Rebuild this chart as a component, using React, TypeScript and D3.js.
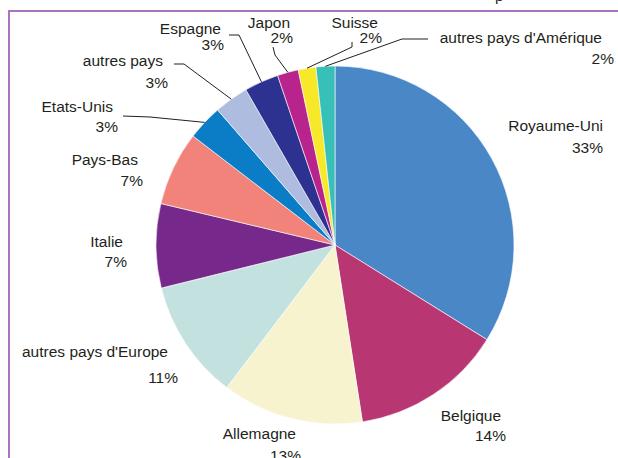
import React, { useEffect, useRef } from "react";
import * as d3 from "d3";

// Chart data (share of total, read clockwise from 12 o'clock)
const countries = [
  "Royaume-Uni",
  "Belgique",
  "Allemagne",
  "autres pays d'Europe",
  "Italie",
  "Pays-Bas",
  "Etats-Unis",
  "autres pays",
  "Espagne",
  "Japon",
  "Suisse",
  "autres pays d'Amérique",
];
const shares = [33.9, 13.7, 12.8, 10.8, 7.6, 6.7, 3.2, 3.1, 3.1, 1.9, 1.6, 1.7];
const percentLabels = ["33%", "14%", "13%", "11%", "7%", "7%", "3%", "3%", "3%", "2%", "2%", "2%"];
const colors = [
  "#4a87c7",
  "#b83772",
  "#f8f3cf",
  "#c3e2df",
  "#76298a",
  "#f2837a",
  "#0a7dc6",
  "#aebcdf",
  "#2d3190",
  "#b8248c",
  "#f8e82a",
  "#36c0b7",
];

// Label layout: right edge + baseline of each of the two lines
const labelLayout: { l1: [number, number]; l2: [number, number]; leader?: [number, number][] }[] = [
  { l1: [603, 131], l2: [603, 153] },
  { l1: [501, 421], l2: [506, 441] },
  { l1: [296, 439], l2: [301, 461] },
  { l1: [168, 357], l2: [178, 383] },
  { l1: [123, 247], l2: [127, 267] },
  { l1: [138, 165], l2: [143, 186] },
  { l1: [113, 112], l2: [118, 132], leader: [[123, 116], [150, 117]] },
  { l1: [163, 66], l2: [168, 88], leader: [[174, 64], [184, 64]] },
  { l1: [221, 34], l2: [224, 50], leader: [[229, 35], [239, 35]] },
  { l1: [290, 28], l2: [293, 43], leader: [[273, 47], [275, 55]] },
  { l1: [378, 28], l2: [382, 43], leader: [[352, 42], [352, 47]] },
  { l1: [602, 43], l2: [614, 64], leader: [[428, 39], [402, 39]] },
];

const width = 618;
const height = 458;
const cx = 335;
const cy = 245;
const radius = 179;
const textColor = "#231f20";

const App: React.FC = () => {
  const svgRef = useRef<SVGSVGElement | null>(null);

  useEffect(() => {
    const svg = d3.select(svgRef.current);
    svg.selectAll("*").remove();

    const data = countries.map((name, i) => ({ name, value: shares[i], i }));

    // frame (runs off the right and bottom edges)
    svg
      .append("rect")
      .attr("x", 9)
      .attr("y", 11)
      .attr("width", 700)
      .attr("height", 600)
      .attr("fill", "none")
      .attr("stroke", "#a066b9")
      .attr("stroke-width", 1.8);

    // descender of the clipped title above
    svg
      .append("text")
      .attr("x", 495)
      .attr("y", 1)
      .attr("font-family", "'Liberation Sans', Arial, sans-serif")
      .attr("font-size", 15.5)
      .attr("fill", textColor)
      .text("p");

    const pie = d3
      .pie<{ name: string; value: number; i: number }>()
      .value((d) => d.value)
      .sort(null);
    const arcs = pie(data);

    const arc = d3
      .arc<d3.PieArcDatum<{ name: string; value: number; i: number }>>()
      .innerRadius(0)
      .outerRadius(radius);

    const g = svg.append("g").attr("transform", `translate(${cx},${cy})`);

    g.selectAll("path")
      .data(arcs)
      .enter()
      .append("path")
      .attr("d", arc)
      .attr("fill", (d) => colors[d.data.i])
      .attr("stroke", "#ffffff")
      .attr("stroke-width", 0.6);

    // leader lines
    const line = d3.line<[number, number]>();
    arcs.forEach((a) => {
      const lay = labelLayout[a.data.i];
      if (!lay.leader) return;
      const mid = (a.startAngle + a.endAngle) / 2;
      const end: [number, number] = [cx + radius * Math.sin(mid), cy - radius * Math.cos(mid)];
      svg
        .append("path")
        .attr("d", line([...lay.leader, end]))
        .attr("fill", "none")
        .attr("stroke", textColor)
        .attr("stroke-width", 1);
    });

    // labels
    data.forEach((d) => {
      const lay = labelLayout[d.i];
      const t = svg
        .append("g")
        .attr("font-family", "'Liberation Sans', Arial, sans-serif")
        .attr("font-size", 15.5)
        .attr("fill", textColor)
        .attr("text-anchor", "end");
      t.append("text").attr("x", lay.l1[0]).attr("y", lay.l1[1]).text(d.name);
      t.append("text").attr("x", lay.l2[0]).attr("y", lay.l2[1]).text(percentLabels[d.i]);
    });
  }, []);

  return (
    <div style={{ position: "absolute", left: 0, top: 0 }}>
      <svg ref={svgRef} width={width} height={height} style={{ display: "block" }}></svg>
    </div>
  );
};

export default App;
